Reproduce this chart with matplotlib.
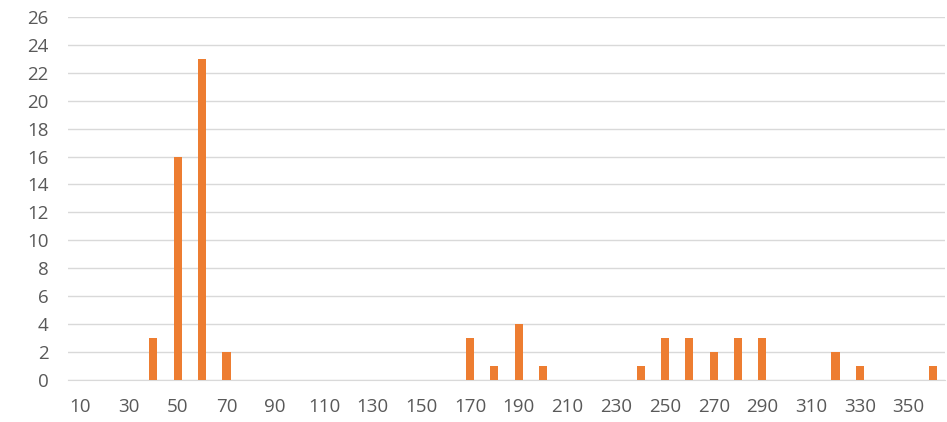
import numpy as np
import matplotlib.pyplot as plt

categorias = list(range(10, 370, 10))
valores = [0, 0, 0, 3, 16, 23, 2, 0, 0, 0,
           0, 0, 0, 0, 0, 0, 3, 1, 4, 1,
           0, 0, 0, 1, 3, 3, 2, 3, 3, 0,
           0, 2, 1, 0, 0, 1]
yticks = list(range(0, 28, 2))

plt.rcParams['font.family'] = ['Open Sans', 'DejaVu Sans']

fig = plt.figure(figsize=(9.47, 4.22), dpi=100)
ax = fig.add_axes([0.072, 0.0995, 0.926, 0.8605])

x = np.arange(len(categorias))
ax.bar(x, valores, width=0.33, color='#ED7D31', zorder=3)

ax.set_xlim(-0.5, len(categorias) - 0.5)
ax.set_ylim(0, 26)
ax.set_yticks(yticks)
ax.set_xticks(x[::2])
ax.set_xticklabels([str(c) for c in categorias[::2]])

ax.grid(axis='y', color='#D9D9D9', linewidth=1, zorder=0)
for s in ['top', 'right', 'left']:
    ax.spines[s].set_visible(False)
ax.spines['bottom'].set_color('#D9D9D9')
ax.tick_params(length=0, labelsize=13.5, colors='#595959')
ax.tick_params(axis='x', pad=13)
ax.tick_params(axis='y', pad=14)

fig.savefig('out.png', dpi=100)
